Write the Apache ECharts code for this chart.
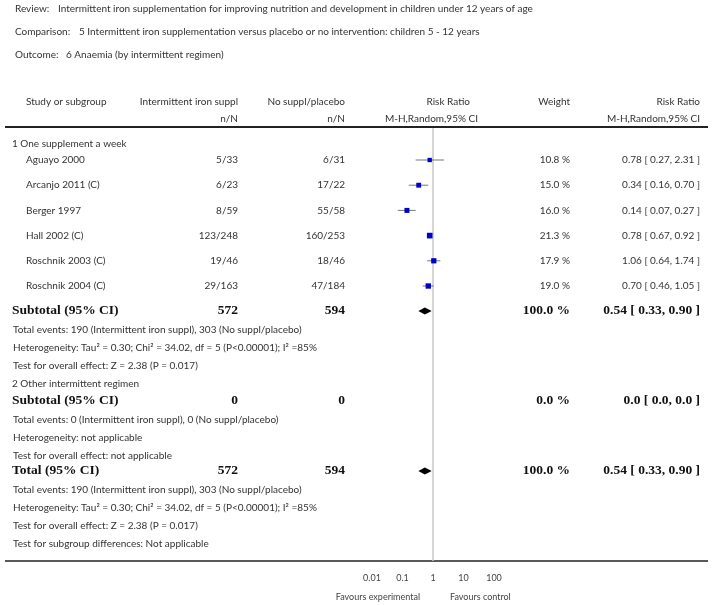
<!DOCTYPE html>
<html><head><meta charset="utf-8">
<script src="https://cdn.jsdelivr.net/npm/echarts@6/dist/echarts.min.js"></script>
<style>html,body{margin:0;padding:0;background:#fff}#c{width:713px;height:605px}</style>
</head><body><div id="c"></div>
<script>
// ---------- DATA ----------
const headerLabels = ['Review:', 'Comparison:', 'Outcome:'];
const headerTexts = [
  'Intermittent iron supplementation for improving nutrition and development in children under 12 years of age',
  '5 Intermittent iron supplementation versus placebo or no intervention: children 5 - 12 years',
  '6 Anaemia (by intermittent regimen)'
];
const columnHeads1 = ['Study or subgroup', 'Intermittent iron suppl', 'No suppl/placebo', 'Risk Ratio', 'Weight', 'Risk Ratio'];
const columnHeads2 = ['n/N', 'n/N', 'M-H,Random,95% CI', 'M-H,Random,95% CI'];

const subgroupTitles = ['1 One supplement a week', '2 Other intermittent regimen'];
const studies = ['Aguayo 2000', 'Arcanjo 2011 (C)', 'Berger 1997', 'Hall 2002 (C)', 'Roschnik 2003 (C)', 'Roschnik 2004 (C)'];
const expN = ['5/33', '6/23', '8/59', '123/248', '19/46', '29/163'];
const ctlN = ['6/31', '17/22', '55/58', '160/253', '18/46', '47/184'];
const rr = [0.78, 0.34, 0.14, 0.78, 1.06, 0.70];
const rrLo = [0.27, 0.16, 0.07, 0.67, 0.64, 0.46];
const rrHi = [2.31, 0.70, 0.27, 0.92, 1.74, 1.05];
const weights = [10.8, 15.0, 16.0, 21.3, 17.9, 19.0];

// pooled rows: Subtotal 1, Subtotal 2, Total
const pooledLabels = ['Subtotal (95% CI)', 'Subtotal (95% CI)', 'Total (95% CI)'];
const pooledExpTotal = ['572', '0', '572'];
const pooledCtlTotal = ['594', '0', '594'];
const pooledRR = [0.54, null, 0.54];
const pooledLo = [0.33, null, 0.33];
const pooledHi = [0.90, null, 0.90];
const pooledWeight = ['100.0 %', '0.0 %', '100.0 %'];
const pooledText = ['0.54 [ 0.33, 0.90 ]', '0.0 [ 0.0, 0.0 ]', '0.54 [ 0.33, 0.90 ]'];
const pooledStats = [
  ['Total events: 190 (Intermittent iron suppl), 303 (No suppl/placebo)',
   'Heterogeneity: Tau² = 0.30; Chi² = 34.02, df = 5 (P<0.00001); I² =85%',
   'Test for overall effect: Z = 2.38 (P = 0.017)'],
  ['Total events: 0 (Intermittent iron suppl), 0 (No suppl/placebo)',
   'Heterogeneity: not applicable',
   'Test for overall effect: not applicable'],
  ['Total events: 190 (Intermittent iron suppl), 303 (No suppl/placebo)',
   'Heterogeneity: Tau² = 0.30; Chi² = 34.02, df = 5 (P<0.00001); I² =85%',
   'Test for overall effect: Z = 2.38 (P = 0.017)',
   'Test for subgroup differences: Not applicable']
];
const tickValues = [0.01, 0.1, 1, 10, 100];
const tickLabels = ['0.01', '0.1', '1', '10', '100'];
const favours = ['Favours experimental', 'Favours control'];

// ---------- LAYOUT ----------
const FONT = 'Lato, "Open Sans", sans-serif';
const SERIF = '"Liberation Serif", "DejaVu Serif", serif';
const TXT = '#333';
const COL = { study: 26, group: 12, exp: 238, ctl: 345, plotH1: 470, plotH2: 478, weight: 570, rr: 700 };
const AXIS_Y = 561, HEAD_LINE_Y = 127;
const STUDY_Y0 = 160, STUDY_STEP = 25.2, STAT_STEP = 18;

const studyY = studies.map((_, i) => STUDY_Y0 + i * STUDY_STEP);
const pooledY = [311, 401, 471];
const groupY = [144, 384];

const els = [];
function txt(x, y, s, o) {
  o = o || {};
  els.push({ type: 'text', silent: true, style: {
    x: x, y: y, text: s, textAlign: o.align || 'left', textVerticalAlign: 'middle',
    fontFamily: o.serif ? SERIF : FONT, fontSize: o.size || (o.serif ? 13.5 : 10),
    fontWeight: o.bold ? 'bold' : 'normal', fill: o.color || (o.bold ? '#111' : TXT)
  }});
}
function hline(y, w) {
  els.push({ type: 'line', silent: true, shape: { x1: 5, y1: y, x2: 708, y2: y },
    style: { stroke: '#222', lineWidth: w } });
}

// header
const headY = [9, 32, 55];
const headGap = [58, 79, 66];
headerLabels.forEach((l, i) => { txt(15, headY[i], l); txt(headGap[i], headY[i], headerTexts[i]); });
// column heads
txt(COL.study, 102, columnHeads1[0]);
txt(COL.exp, 102, columnHeads1[1], { align: 'right' });
txt(COL.ctl, 102, columnHeads1[2], { align: 'right' });
txt(COL.plotH1, 102, columnHeads1[3], { align: 'right' });
txt(COL.weight, 102, columnHeads1[4], { align: 'right' });
txt(COL.rr, 102, columnHeads1[5], { align: 'right' });
txt(COL.exp, 119, columnHeads2[0], { align: 'right' });
txt(COL.ctl, 119, columnHeads2[1], { align: 'right' });
txt(COL.plotH2, 119, columnHeads2[2], { align: 'right' });
txt(COL.rr, 119, columnHeads2[3], { align: 'right' });
hline(HEAD_LINE_Y, 2);
hline(AXIS_Y, 1.5);

// subgroup titles
subgroupTitles.forEach((t, i) => txt(COL.group, groupY[i], t));
// studies
studies.forEach((s, i) => {
  const y = studyY[i];
  txt(COL.study, y, s);
  txt(COL.exp, y, expN[i], { align: 'right' });
  txt(COL.ctl, y, ctlN[i], { align: 'right' });
  txt(COL.weight, y, weights[i].toFixed(1) + ' %', { align: 'right' });
  txt(COL.rr, y, rr[i].toFixed(2) + ' [ ' + rrLo[i].toFixed(2) + ', ' + rrHi[i].toFixed(2) + ' ]', { align: 'right' });
});
// pooled
pooledLabels.forEach((l, i) => {
  const y = pooledY[i];
  const b = { serif: true, bold: true };
  txt(COL.group, y, l, b);
  txt(COL.exp, y, pooledExpTotal[i], Object.assign({ align: 'right' }, b));
  txt(COL.ctl, y, pooledCtlTotal[i], Object.assign({ align: 'right' }, b));
  txt(COL.weight, y, pooledWeight[i], Object.assign({ align: 'right' }, b));
  txt(COL.rr, y, pooledText[i], Object.assign({ align: 'right' }, b));
  pooledStats[i].forEach((s, k) => txt(COL.group + 1, y + 18.5 + k * STAT_STEP, s));
});
// favours
txt(420, 597, favours[0], { align: 'right', size: 9, color: '#444' });
txt(450, 597, favours[1], { align: 'left', size: 9, color: '#444' });

// ---------- CHART ----------
const studyData = studies.map((_, i) => [rr[i], rrLo[i], rrHi[i], studyY[i], weights[i]]);
const diamondData = pooledRR.map((v, i) => v == null ? null : [v, pooledLo[i], pooledHi[i], pooledY[i]]).filter(d => d);

const chart = echarts.init(document.getElementById('c'), null, { renderer: 'canvas' });
chart.setOption({
  animation: false,
  grid: { left: 372, width: 122, top: 0, height: AXIS_Y, containLabel: false },
  xAxis: {
    type: 'log', logBase: 10, min: 0.01, max: 100,
    axisLine: { show: false },
    axisTick: { show: true, inside: true, length: 4, lineStyle: { color: '#222', width: 1 } },
    splitLine: { show: false },
    axisLabel: {
      margin: 13, fontSize: 9, color: '#444', fontFamily: FONT,
      formatter: v => { const k = tickValues.findIndex(t => Math.abs(Math.log10(t) - Math.log10(v)) < 1e-6); return k >= 0 ? tickLabels[k] : ''; }
    }
  },
  yAxis: { type: 'value', min: 0, max: AXIS_Y, inverse: true, show: false },
  series: [
    {
      type: 'line', data: [[1, HEAD_LINE_Y + 1], [1, AXIS_Y]], symbol: 'none', silent: true,
      lineStyle: { color: '#c8c8c8', width: 1.5 }, z: 1
    },
    {
      type: 'custom', data: studyData, z: 3, silent: true, clip: false,
      renderItem: (params, api) => {
        const y = api.value(3);
        const m = api.coord([api.value(0), y]);
        const a = api.coord([api.value(1), y]);
        const b = api.coord([api.value(2), y]);
        const s = 3 + api.value(4) / 8;
        return { type: 'group', children: [
          { type: 'line', shape: { x1: a[0], y1: m[1], x2: b[0], y2: m[1] }, style: { stroke: '#777', lineWidth: 1 } },
          { type: 'rect', shape: { x: m[0] - s / 2, y: m[1] - s / 2, width: s, height: s }, style: { fill: '#0000c8' } }
        ]};
      }
    },
    {
      type: 'custom', data: diamondData, z: 3, silent: true, clip: false,
      renderItem: (params, api) => {
        const y = api.value(3);
        const m = api.coord([api.value(0), y]);
        const a = api.coord([api.value(1), y]);
        const b = api.coord([api.value(2), y]);
        const h = 3.5;
        return { type: 'polygon', shape: { points: [[a[0], m[1]], [m[0], m[1] - h], [b[0], m[1]], [m[0], m[1] + h]] }, style: { fill: '#000' } };
      }
    }
  ],
  graphic: { elements: els }
});
</script></body></html>
